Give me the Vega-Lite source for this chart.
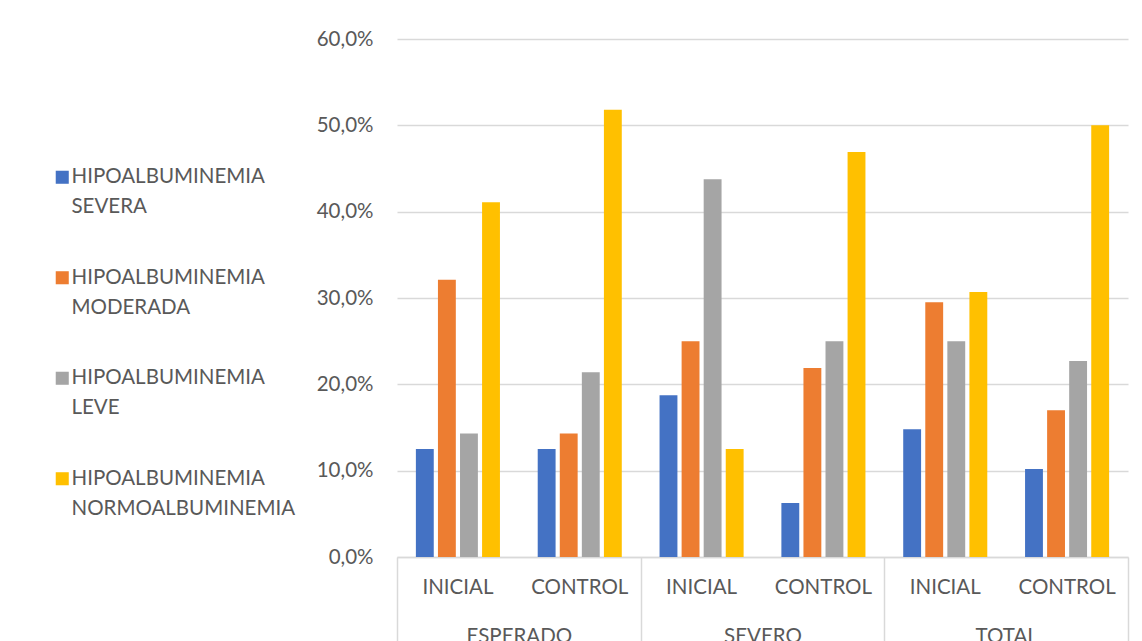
{
  "$schema": "https://vega.github.io/schema/vega-lite/v6.json",
  "width": 731,
  "height": 518,
  "autosize": {"type": "none"},
  "padding": {"left": 397, "top": 39, "right": 14, "bottom": 84},
  "background": "white",
  "config": {
    "view": {"stroke": null},
    "font": "Lato",
    "axis": {"labelFont": "Lato", "labelColor": "#595959", "labelFontSize": 20.5},
    "legend": {"labelFont": "Lato", "labelColor": "#595959", "labelFontSize": 20.5}
  },
  "data": {
    "values": [
      {"cat": "ESPERADO|INICIAL", "group": "ESPERADO", "series": "HIPOALBUMINEMIA SEVERA", "value": 12.5},
      {"cat": "ESPERADO|INICIAL", "group": "ESPERADO", "series": "HIPOALBUMINEMIA MODERADA", "value": 32.1},
      {"cat": "ESPERADO|INICIAL", "group": "ESPERADO", "series": "HIPOALBUMINEMIA LEVE", "value": 14.3},
      {"cat": "ESPERADO|INICIAL", "group": "ESPERADO", "series": "HIPOALBUMINEMIA NORMOALBUMINEMIA", "value": 41.1},
      {"cat": "ESPERADO|CONTROL", "group": "ESPERADO", "series": "HIPOALBUMINEMIA SEVERA", "value": 12.5},
      {"cat": "ESPERADO|CONTROL", "group": "ESPERADO", "series": "HIPOALBUMINEMIA MODERADA", "value": 14.3},
      {"cat": "ESPERADO|CONTROL", "group": "ESPERADO", "series": "HIPOALBUMINEMIA LEVE", "value": 21.4},
      {"cat": "ESPERADO|CONTROL", "group": "ESPERADO", "series": "HIPOALBUMINEMIA NORMOALBUMINEMIA", "value": 51.8},
      {"cat": "SEVERO|INICIAL", "group": "SEVERO", "series": "HIPOALBUMINEMIA SEVERA", "value": 18.75},
      {"cat": "SEVERO|INICIAL", "group": "SEVERO", "series": "HIPOALBUMINEMIA MODERADA", "value": 25.0},
      {"cat": "SEVERO|INICIAL", "group": "SEVERO", "series": "HIPOALBUMINEMIA LEVE", "value": 43.75},
      {"cat": "SEVERO|INICIAL", "group": "SEVERO", "series": "HIPOALBUMINEMIA NORMOALBUMINEMIA", "value": 12.5},
      {"cat": "SEVERO|CONTROL", "group": "SEVERO", "series": "HIPOALBUMINEMIA SEVERA", "value": 6.25},
      {"cat": "SEVERO|CONTROL", "group": "SEVERO", "series": "HIPOALBUMINEMIA MODERADA", "value": 21.9},
      {"cat": "SEVERO|CONTROL", "group": "SEVERO", "series": "HIPOALBUMINEMIA LEVE", "value": 25.0},
      {"cat": "SEVERO|CONTROL", "group": "SEVERO", "series": "HIPOALBUMINEMIA NORMOALBUMINEMIA", "value": 46.9},
      {"cat": "TOTAL|INICIAL", "group": "TOTAL", "series": "HIPOALBUMINEMIA SEVERA", "value": 14.8},
      {"cat": "TOTAL|INICIAL", "group": "TOTAL", "series": "HIPOALBUMINEMIA MODERADA", "value": 29.5},
      {"cat": "TOTAL|INICIAL", "group": "TOTAL", "series": "HIPOALBUMINEMIA LEVE", "value": 25.0},
      {"cat": "TOTAL|INICIAL", "group": "TOTAL", "series": "HIPOALBUMINEMIA NORMOALBUMINEMIA", "value": 30.7},
      {"cat": "TOTAL|CONTROL", "group": "TOTAL", "series": "HIPOALBUMINEMIA SEVERA", "value": 10.2},
      {"cat": "TOTAL|CONTROL", "group": "TOTAL", "series": "HIPOALBUMINEMIA MODERADA", "value": 17.0},
      {"cat": "TOTAL|CONTROL", "group": "TOTAL", "series": "HIPOALBUMINEMIA LEVE", "value": 22.7},
      {"cat": "TOTAL|CONTROL", "group": "TOTAL", "series": "HIPOALBUMINEMIA NORMOALBUMINEMIA", "value": 50.0}
    ]
  },
  "resolve": {"scale": {"x": "independent"}, "axis": {"x": "independent"}},
  "layer": [
    {
      "mark": {"type": "bar"},
      "encoding": {
        "x": {
          "field": "cat", "type": "nominal", "sort": null,
          "scale": {"paddingInner": 0.31, "paddingOuter": 0.155},
          "axis": {
            "orient": "bottom", "title": null, "ticks": false, "domain": true,
            "domainColor": "#d9d9d9", "domainWidth": 1.5, "labelAngle": 0,
            "labelPadding": 20, "labelExpr": "split(datum.value, '|')[1]"
          }
        },
        "xOffset": {
          "field": "series", "type": "nominal", "sort": null,
          "scale": {"paddingInner": 0.19}
        },
        "y": {
          "field": "value", "type": "quantitative",
          "scale": {"domain": [0, 60]},
          "axis": {
            "title": null, "values": [0, 10, 20, 30, 40, 50, 60],
            "domain": false, "ticks": false, "gridColor": "#d9d9d9", "gridWidth": 1.5,
            "labelPadding": 24,
            "labelExpr": "replace(format(datum.value, '.1f'), '.', ',') + '%'"
          }
        },
        "color": {
          "field": "series", "type": "nominal", "sort": null,
          "scale": {
            "domain": ["HIPOALBUMINEMIA SEVERA", "HIPOALBUMINEMIA MODERADA", "HIPOALBUMINEMIA LEVE", "HIPOALBUMINEMIA NORMOALBUMINEMIA"],
            "range": ["#4472C4", "#ED7D31", "#A5A5A5", "#FFC000"]
          },
          "legend": {
            "title": null, "orient": "none", "legendX": -345, "legendY": 128,
            "padding": 0, "symbolType": "square", "symbolSize": 170,
            "symbolStrokeWidth": 0, "labelOffset": -1, "rowPadding": 49.5,
            "labelBaseline": "middle", "labelLimit": 400,
            "labelExpr": "split(datum.label, ' ')",
            "encode": {"labels": {"update": {"lineHeight": {"value": 30}}}}
          }
        }
      }
    },
    {
      "mark": {"type": "text", "text": ""},
      "encoding": {
        "x": {
          "field": "group", "type": "nominal", "sort": null,
          "scale": {"paddingInner": 0, "paddingOuter": 0},
          "axis": {
            "orient": "bottom", "title": null, "domain": false, "ticks": true,
            "tickBand": "extent", "tickSize": 90, "tickColor": "#d9d9d9", "tickWidth": 1.5,
            "labelAngle": 0, "labelPadding": -21
          }
        }
      }
    }
  ]
}
